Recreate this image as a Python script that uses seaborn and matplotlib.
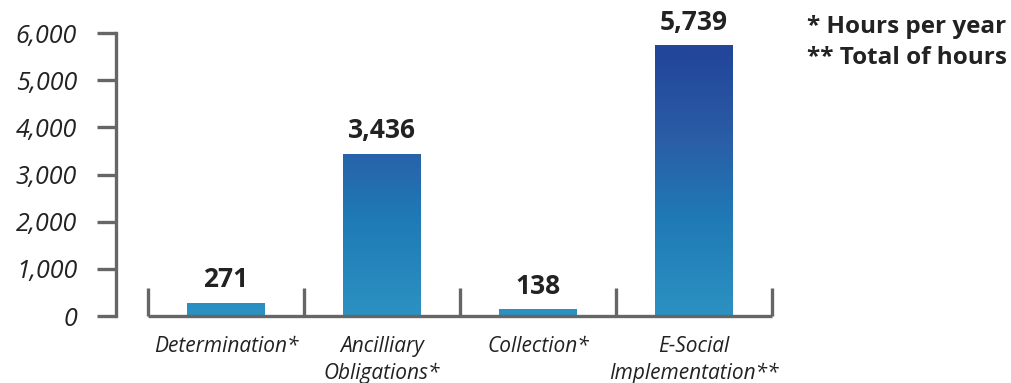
import numpy as np
import pandas as pd
import matplotlib
matplotlib.use("Agg")
import matplotlib.pyplot as plt
from matplotlib.colors import LinearSegmentedColormap
from matplotlib.ticker import FixedLocator, FuncFormatter
import seaborn as sns

# Data
categories = ["Determination*", "Ancilliary\nObligations*", "Collection*", "E-Social\nImplementation**"]
hours = [271, 3436, 138, 5739]
value_labels = ["271", "3,436", "138", "5,739"]
y_ticks = [0, 1000, 2000, 3000, 4000, 5000, 6000]
notes = ["* Hours per year", "** Total of hours"]

sns.set_theme(style="white")
plt.rcParams["font.family"] = ["Open Sans", "DejaVu Sans"]

AXIS = "#666666"
TEXT = "#222222"

fig = plt.figure(figsize=(10.11, 3.83), dpi=100)
ax = fig.add_axes([116 / 1011, 1 - 316 / 383, (775 - 116) / 1011, (316 - 33) / 383])

df = pd.DataFrame({"category": categories, "hours": hours})
sns.barplot(data=df, x="category", y="hours", ax=ax, width=0.5, color="#2B8EC0",
            saturation=1, edgecolor="none")

# vertical gradient shared by all bars (bottom light blue, top deep blue)
cmap = LinearSegmentedColormap.from_list(
    "blues", [(0.0, "#2C92C2"), (0.35, "#1F79B5"), (0.62, "#2A5EA6"),
              (0.92, "#22469B"), (1.0, "#2A4698")])
ymax = 6000
grad = np.linspace(0, 1, 256).reshape(-1, 1)
for patch in ax.patches:
    x0, w, h = patch.get_x(), patch.get_width(), patch.get_height()
    im = ax.imshow(grad, cmap=cmap, origin="lower", aspect="auto",
                   extent=[x0, x0 + w, 0, ymax], vmin=0, vmax=1, zorder=2)
    im.set_clip_path(patch)
    patch.set_facecolor("none")

ax.set_xlim(-0.5 - 32 / 156, 3.5 + 3 / 156)
ax.set_ylim(0, 6000)

# value labels above the bars
for i, (v, lab) in enumerate(zip(hours, value_labels)):
    ax.annotate(lab, (i, v), xytext=(0, 7), textcoords="offset points",
                ha="center", va="bottom", fontsize=19, fontweight="bold",
                color=TEXT, annotation_clip=False)

# spines
for s in ["top", "right"]:
    ax.spines[s].set_visible(False)
ax.spines["left"].set_color(AXIS)
ax.spines["left"].set_linewidth(2.4)
ax.spines["left"].set_bounds(0, 6000)
ax.spines["bottom"].set_color(AXIS)
ax.spines["bottom"].set_linewidth(2.4)
ax.spines["bottom"].set_bounds(-0.5, 3.5)
ax.spines["bottom"].set_capstyle("butt")

# y ticks
ax.yaxis.set_major_locator(FixedLocator(y_ticks))
ax.yaxis.set_major_formatter(FuncFormatter(lambda v, p: f"{int(v):,}"))
ax.tick_params(axis="y", which="major", direction="out", length=14, width=2.4,
               color=AXIS, pad=14, labelsize=18, labelcolor=TEXT, left=True)
for t in ax.get_yticklabels():
    t.set_fontstyle("italic")

# x: category separators as inward minor ticks
ax.set_xticks(range(len(categories)))
ax.set_xticklabels(categories)
ax.xaxis.set_minor_locator(FixedLocator([-0.5, 0.5, 1.5, 2.5, 3.5]))
ax.tick_params(axis="x", which="minor", direction="in", length=20, width=2.4,
               color=AXIS, bottom=True)
ax.tick_params(axis="x", which="major", length=0, pad=14.5, labelsize=15,
               labelcolor=TEXT)
for t in ax.get_xticklabels():
    t.set_fontstyle("italic")
    t.set_linespacing(1.35)
ax.set_xlabel("")
ax.set_ylabel("")
ax.grid(False)

# notes on the right
fig.text(807 / 1011, 1 - 27 / 383, notes[0], ha="left", va="center",
         fontsize=17.5, fontweight="bold", color=TEXT)
fig.text(807 / 1011, 1 - 58 / 383, notes[1], ha="left", va="center",
         fontsize=17.5, fontweight="bold", color=TEXT)

fig.savefig("out.png", dpi=100)
